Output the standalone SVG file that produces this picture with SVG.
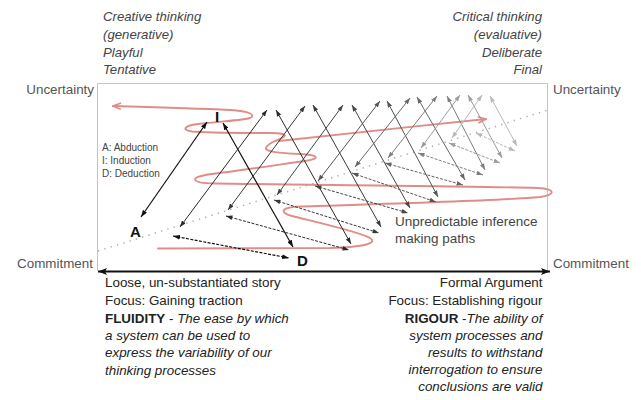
<svg xmlns="http://www.w3.org/2000/svg" width="641" height="400" viewBox="0 0 641 400">
<style>
text{font-family:"Liberation Sans",Arial,sans-serif;}
.ax{font-size:13.4px;fill:#555;}
.top{font-size:13.2px;font-style:italic;fill:#444;}
.bot{font-size:13.4px;fill:#222;}
.it{font-style:italic;}
.b{font-weight:bold;}
.leg{font-size:10px;fill:#444;}
.lab{font-size:15px;font-weight:bold;fill:#111;}
.note{font-size:13.5px;fill:#444;}
.e{fill:none;stroke-width:1;}
.d{stroke-dasharray:3 1.4;}
.c1{stroke:#111;stroke-width:1.2;}
.c2{stroke:#2a2a2a;}
.c3{stroke:#383838;}
.c4{stroke:#454545;}
.c5{stroke:#555;}
.c6{stroke:#666;}
.c7{stroke:#7e7e7e;}
.c8{stroke:#9c9c9c;}
.c9{stroke:#b8b8b8;}
.red{fill:none;stroke:#e08d88;stroke-width:1.9;stroke-linecap:round;}
</style>
<defs>
<marker id="h1" viewBox="0 0 7 5" refX="7" refY="2.5" markerWidth="7" markerHeight="5" markerUnits="userSpaceOnUse" orient="auto-start-reverse"><path d="M0,0L7,2.5L0,5z" fill="#111"/></marker>
<marker id="h2" viewBox="0 0 7 5" refX="7" refY="2.5" markerWidth="6.5" markerHeight="4.6" markerUnits="userSpaceOnUse" orient="auto-start-reverse"><path d="M0,0L7,2.5L0,5z" fill="#2a2a2a"/></marker>
<marker id="h3" viewBox="0 0 7 5" refX="7" refY="2.5" markerWidth="6.5" markerHeight="4.6" markerUnits="userSpaceOnUse" orient="auto-start-reverse"><path d="M0,0L7,2.5L0,5z" fill="#383838"/></marker>
<marker id="h4" viewBox="0 0 7 5" refX="7" refY="2.5" markerWidth="6.5" markerHeight="4.6" markerUnits="userSpaceOnUse" orient="auto-start-reverse"><path d="M0,0L7,2.5L0,5z" fill="#454545"/></marker>
<marker id="h5" viewBox="0 0 7 5" refX="7" refY="2.5" markerWidth="6.5" markerHeight="4.6" markerUnits="userSpaceOnUse" orient="auto-start-reverse"><path d="M0,0L7,2.5L0,5z" fill="#555"/></marker>
<marker id="h6" viewBox="0 0 7 5" refX="7" refY="2.5" markerWidth="6.5" markerHeight="4.6" markerUnits="userSpaceOnUse" orient="auto-start-reverse"><path d="M0,0L7,2.5L0,5z" fill="#666"/></marker>
<marker id="h7" viewBox="0 0 7 5" refX="7" refY="2.5" markerWidth="6.5" markerHeight="4.6" markerUnits="userSpaceOnUse" orient="auto-start-reverse"><path d="M0,0L7,2.5L0,5z" fill="#7e7e7e"/></marker>
<marker id="h8" viewBox="0 0 7 5" refX="7" refY="2.5" markerWidth="6.5" markerHeight="4.6" markerUnits="userSpaceOnUse" orient="auto-start-reverse"><path d="M0,0L7,2.5L0,5z" fill="#9c9c9c"/></marker>
<marker id="h9" viewBox="0 0 7 5" refX="7" refY="2.5" markerWidth="6.5" markerHeight="4.6" markerUnits="userSpaceOnUse" orient="auto-start-reverse"><path d="M0,0L7,2.5L0,5z" fill="#b8b8b8"/></marker>
<marker id="rh" viewBox="0 0 10 8" refX="9" refY="4" markerWidth="10" markerHeight="8" markerUnits="userSpaceOnUse" orient="auto"><path d="M1,0.8L9,4L1,7.2" fill="none" stroke="#e08d88" stroke-width="1.6"/></marker>
<marker id="ah" viewBox="0 0 9 7" refX="9" refY="3.5" markerWidth="9" markerHeight="7" markerUnits="userSpaceOnUse" orient="auto-start-reverse"><path d="M0,0L9,3.5L0,7L2,3.5z" fill="#111"/></marker>
</defs>

<rect width="641" height="400" fill="#fff"/>

<g id="frame">
<path d="M97.5,271V83.5H547.5V271" fill="none" stroke="#c4c4c4" stroke-width="1"/>
<line x1="98" y1="251" x2="548" y2="110" stroke="#b0b0b0" stroke-width="1.5" stroke-dasharray="1.4 5.2"/>
</g>

<g id="red-path">
<path class="red" marker-end="url(#rh)" d="M158,248.5 L330,248 C365,247 378,243 370,238 C360,232 320,223 292,216 C278,212 282,207 300,206.5 C380,204 500,201 540,197 C556,195 556,189 538,188 C470,186 320,185 215,183.5 C190,183 188,177 212,174 C250,169 290,163 305,161 C320,159 320,155 300,154 C280,153 265,152 266,148 C267,143 278,140 282,138 C288,135 285,133 268,133 C240,133 205,133 192,131.5 C182,130 183,126 198,124 C225,121 245,120 250,118 C256,115 250,111 230,110 C190,108 150,107 113,106"/>
<path class="red" marker-end="url(#rh)" d="M279,141 C330,135 420,126 486,119"/>
</g>

<g id="connectors">
<g id="tri1">
<line class="e c1" x1="141" y1="217" x2="207" y2="122" marker-start="url(#h1)" marker-end="url(#h1)"/>
<line class="e c1" x1="223" y1="123" x2="293" y2="247" marker-start="url(#h1)" marker-end="url(#h1)"/>
<line class="e c1 d" x1="173" y1="236" x2="289" y2="258" marker-start="url(#h1)" marker-end="url(#h1)"/>
</g>
<g id="tri2">
<line class="e c2" x1="180" y1="227" x2="267" y2="110" marker-start="url(#h2)" marker-end="url(#h2)"/>
<line class="e c2" x1="276" y1="110" x2="351" y2="244" marker-start="url(#h2)" marker-end="url(#h2)"/>
<line class="e c2 d" x1="226" y1="216" x2="349" y2="250" marker-start="url(#h2)" marker-end="url(#h2)"/>
</g>
<g id="tri3">
<line class="e c3" x1="228" y1="210" x2="305" y2="106" marker-start="url(#h3)" marker-end="url(#h3)"/>
<line class="e c3" x1="313" y1="105" x2="381" y2="227" marker-start="url(#h3)" marker-end="url(#h3)"/>
<line class="e c3 d" x1="274" y1="200" x2="379" y2="233" marker-start="url(#h3)" marker-end="url(#h3)"/>
</g>
<g id="tri4">
<line class="e c4" x1="277" y1="195" x2="343" y2="105" marker-start="url(#h4)" marker-end="url(#h4)"/>
<line class="e c4" x1="352" y1="105" x2="410" y2="208" marker-start="url(#h4)" marker-end="url(#h4)"/>
<line class="e c4 d" x1="315" y1="186" x2="408" y2="213" marker-start="url(#h4)" marker-end="url(#h4)"/>
</g>
<g id="tri5">
<line class="e c5" x1="318" y1="181" x2="380" y2="101" marker-start="url(#h5)" marker-end="url(#h5)"/>
<line class="e c5" x1="387" y1="101" x2="438" y2="197" marker-start="url(#h5)" marker-end="url(#h5)"/>
<line class="e c5 d" x1="352" y1="173" x2="436" y2="202" marker-start="url(#h5)" marker-end="url(#h5)"/>
</g>
<g id="tri6">
<line class="e c6" x1="355" y1="167" x2="410" y2="98" marker-start="url(#h6)" marker-end="url(#h6)"/>
<line class="e c6" x1="417" y1="97" x2="465" y2="180" marker-start="url(#h6)" marker-end="url(#h6)"/>
<line class="e c6 d" x1="385" y1="163" x2="463" y2="185" marker-start="url(#h6)" marker-end="url(#h6)"/>
</g>
<g id="tri7">
<line class="e c7" x1="388" y1="158" x2="437" y2="96" marker-start="url(#h7)" marker-end="url(#h7)"/>
<line class="e c7" x1="447" y1="96" x2="485" y2="170" marker-start="url(#h7)" marker-end="url(#h7)"/>
<line class="e c7 d" x1="418" y1="153" x2="483" y2="175" marker-start="url(#h7)" marker-end="url(#h7)"/>
</g>
<g id="tri8">
<line class="e c8" x1="421" y1="148" x2="460" y2="95" marker-start="url(#h8)" marker-end="url(#h8)"/>
<line class="e c8" x1="468" y1="95" x2="502" y2="158" marker-start="url(#h8)" marker-end="url(#h8)"/>
<line class="e c8 d" x1="449" y1="143" x2="500" y2="163" marker-start="url(#h8)" marker-end="url(#h8)"/>
</g>
<g id="tri9">
<line class="e c9" x1="452" y1="138" x2="482" y2="95" marker-start="url(#h9)" marker-end="url(#h9)"/>
<line class="e c9" x1="490" y1="96" x2="517" y2="146" marker-start="url(#h9)" marker-end="url(#h9)"/>
<line class="e c9 d" x1="476" y1="133" x2="515" y2="151" marker-start="url(#h9)" marker-end="url(#h9)"/>
</g>
<line id="axis" x1="98" y1="271.5" x2="550" y2="271.5" stroke="#111" stroke-width="2" marker-start="url(#ah)" marker-end="url(#ah)"/>
</g>

<g id="creative">
<text class="top" x="103" y="21">Creative thinking</text>
<text class="top" x="103" y="39">(generative)</text>
<text class="top" x="103" y="57">Playful</text>
<text class="top" x="103" y="74">Tentative</text>
</g>
<g id="critical">
<text class="top" x="542" y="21" text-anchor="end">Critical thinking</text>
<text class="top" x="542" y="39" text-anchor="end">(evaluative)</text>
<text class="top" x="542" y="57" text-anchor="end">Deliberate</text>
<text class="top" x="542" y="74" text-anchor="end">Final</text>
</g>
<g id="uncertainty-left"><text class="ax" x="94" y="94" text-anchor="end">Uncertainty</text></g>
<g id="uncertainty-right"><text class="ax" x="553" y="94">Uncertainty</text></g>
<g id="commitment-left"><text class="ax" x="93" y="268" text-anchor="end">Commitment</text></g>
<g id="commitment-right"><text class="ax" x="553" y="268">Commitment</text></g>

<g id="legend">
<text class="leg" x="102" y="151">A: Abduction</text>
<text class="leg" x="102" y="164">I: Induction</text>
<text class="leg" x="102" y="177">D: Deduction</text>
</g>
<g id="label-A"><text class="lab" x="130" y="237">A</text></g>
<g id="label-I"><text class="lab" x="215" y="122" font-size="14">I</text></g>
<g id="label-D"><text class="lab" x="297" y="266">D</text></g>
<g id="note"><text class="note" x="395" y="226">Unpredictable inference</text><text class="note" x="395" y="243">making paths</text></g>

<g id="fluidity">
<text class="bot" x="105" y="287">Loose, un-substantiated story</text>
<text class="bot" x="105" y="305">Focus: Gaining traction</text>
<text class="bot" x="105" y="322.5"><tspan class="b">FLUIDITY</tspan> - <tspan class="it">The ease by which</tspan></text>
<text class="bot it" x="105" y="340">a system can be used to</text>
<text class="bot it" x="105" y="357">express the variability of our</text>
<text class="bot it" x="105" y="374.5">thinking processes</text>
</g>
<g id="rigour">
<text class="bot" x="542.5" y="287" text-anchor="end">Formal Argument</text>
<text class="bot" x="542.5" y="305" text-anchor="end">Focus: Establishing rigour</text>
<text class="bot" x="542.5" y="322.5" text-anchor="end"><tspan class="b">RIGOUR</tspan> -<tspan class="it">The ability of</tspan></text>
<text class="bot it" x="542.5" y="340" text-anchor="end">system processes and</text>
<text class="bot it" x="542.5" y="357" text-anchor="end">results to withstand</text>
<text class="bot it" x="542.5" y="374" text-anchor="end">interrogation to ensure</text>
<text class="bot it" x="542.5" y="391" text-anchor="end">conclusions are valid</text>
</g>
</svg>
